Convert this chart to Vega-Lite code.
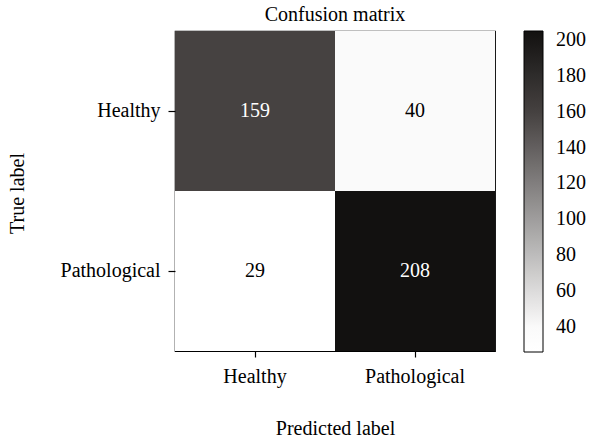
{
  "$schema": "https://vega.github.io/schema/vega-lite/v6.json",
  "width": 320,
  "height": 320,
  "autosize": {"type": "none"},
  "padding": {"left": 175, "top": 31, "right": 94, "bottom": 89},
  "background": "white",
  "title": {
    "text": "Confusion matrix",
    "font": "Liberation Serif",
    "fontSize": 20,
    "fontWeight": "normal",
    "color": "black",
    "anchor": "middle",
    "frame": "group",
    "baseline": "alphabetic",
    "offset": -10
  },
  "config": {
    "view": {"stroke": "black", "strokeWidth": 1.2},
    "font": "Liberation Serif"
  },
  "data": {
    "values": [
      {"true_label": "Healthy", "predicted_label": "Healthy", "count": 159},
      {"true_label": "Healthy", "predicted_label": "Pathological", "count": 40},
      {"true_label": "Pathological", "predicted_label": "Healthy", "count": 29},
      {"true_label": "Pathological", "predicted_label": "Pathological", "count": 208}
    ]
  },
  "encoding": {
    "x": {
      "field": "predicted_label",
      "type": "nominal",
      "sort": ["Healthy", "Pathological"],
      "scale": {"paddingInner": 0, "paddingOuter": 0},
      "axis": {
        "title": "Predicted label",
        "labelAngle": 0,
        "labelFont": "Liberation Serif",
        "labelFontSize": 20,
        "labelColor": "black",
        "labelPadding": 9,
        "tickSize": 6,
        "tickColor": "black",
        "tickWidth": 1.2,
        "domain": false,
        "grid": false,
        "titleFont": "Liberation Serif",
        "titleFontSize": 20,
        "titleFontWeight": "normal",
        "titleColor": "black",
        "titleBaseline": "alphabetic",
        "titleX": 160,
        "titleY": 83
      }
    },
    "y": {
      "field": "true_label",
      "type": "nominal",
      "sort": ["Healthy", "Pathological"],
      "scale": {"paddingInner": 0, "paddingOuter": 0},
      "axis": {
        "title": "True label",
        "labelFont": "Liberation Serif",
        "labelFontSize": 20,
        "labelColor": "black",
        "labelPadding": 8,
        "tickSize": 7,
        "tickColor": "black",
        "tickWidth": 1.2,
        "domain": false,
        "grid": false,
        "titleFont": "Liberation Serif",
        "titleFontSize": 20,
        "titleFontWeight": "normal",
        "titleColor": "black",
        "titleAngle": -90,
        "titleBaseline": "alphabetic",
        "titleAlign": "center",
        "titleX": -152,
        "titleY": 162
      }
    }
  },
  "layer": [
    {
      "mark": {"type": "rect"},
      "encoding": {
        "color": {
          "field": "count",
          "type": "quantitative",
          "scale": {
            "domain": [26, 38, 159, 205],
            "range": ["#ffffff", "#fdfdfd", "#464241", "#121110"],
            "clamp": true,
            "nice": false,
            "zero": false,
            "interpolate": "rgb"
          },
          "legend": {
            "title": null,
            "orient": "none",
            "legendX": 349,
            "legendY": 0,
            "padding": 0,
            "direction": "vertical",
            "gradientLength": 321,
            "gradientThickness": 19,
            "gradientStrokeColor": "black",
            "gradientStrokeWidth": 1,
            "values": [40, 60, 80, 100, 120, 140, 160, 180, 200],
            "labelFont": "Liberation Serif",
            "labelFontSize": 20,
            "labelColor": "black",
            "labelOffset": 13,
            "labelOverlap": false
          }
        }
      }
    },
    {
      "mark": {"type": "text", "font": "Liberation Serif", "fontSize": 20, "baseline": "middle", "align": "center"},
      "encoding": {
        "text": {"field": "count", "type": "quantitative"},
        "color": {
          "condition": {"test": "datum.count > 100", "value": "white"},
          "value": "black"
        }
      }
    }
  ]
}
